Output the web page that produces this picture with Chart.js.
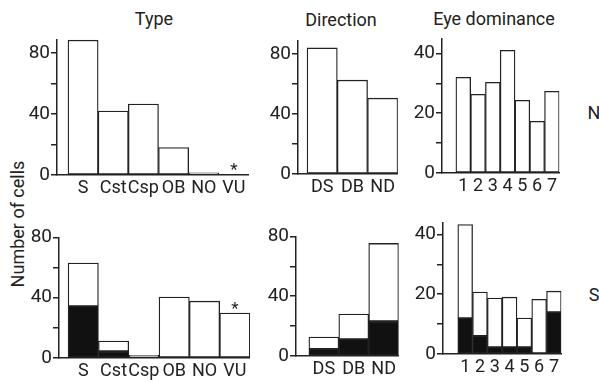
<!DOCTYPE html>
<html>
<head>
<meta charset="utf-8">
<script src="https://cdn.jsdelivr.net/npm/chart.js@4.4.1/dist/chart.umd.min.js"></script>
<style>
  html, body { margin:0; padding:0; background:#fff; }
  body { width:599px; height:382px; position:relative; overflow:hidden;
         font-family:Roboto,'Liberation Sans',sans-serif; color:#222; }
  .box { position:absolute; }
  .txt { position:absolute; font-size:18px; line-height:1; white-space:nowrap; transform:translate(-50%,-50%); }
</style>
</head>
<body>
<script>
// ---- data ----
const typeCats = ['S', 'Cst', 'Csp', 'OB', 'NO', 'VU'];
const dirCats  = ['DS', 'DB', 'ND'];
const eyeCats  = ['1', '2', '3', '4', '5', '6', '7'];

// row N (top)
const typeN = [88.5, 42, 46.5, 18, 1.5, 0];
const dirN  = [84, 62.5, 50.5];
const eyeN  = [32, 26.3, 30.3, 41, 24.3, 17.3, 27.3];

// row S (bottom): totals and filled (black) part
const typeSTotal = [63, 11.3, 1.8, 40.4, 37.7, 29.8];
const typeSBlack = [34.4, 4.5, 0.6, 0, 0, 0];
const dirSTotal  = [12.7, 28, 75.3];
const dirSBlack  = [4.7, 11.3, 23.3];
const eyeSTotal  = [43.3, 20.7, 18.7, 19, 12, 18.3, 21];
const eyeSBlack  = [12, 6, 2.3, 2.3, 2.3, 0, 14];

// y tick values
const ticks80 = [0, 20, 40, 60, 80];
const ticks40 = [0, 10, 20, 30, 40];
</script>

<div class="txt" style="left:154px;top:19px;">Type</div>
<div class="txt" style="left:341px;top:20px;">Direction</div>
<div class="txt" style="left:494px;top:19px;">Eye dominance</div>
<div class="txt" style="left:594px;top:113px;">N</div>
<div class="txt" style="left:594px;top:295px;">S</div>
<div class="txt" style="left:18px;top:224px;transform:translate(-50%,-50%) rotate(-90deg);">Number of cells</div>

<script>
const FONT = "Roboto,'Liberation Sans',sans-serif";
const INK = '#222';

const starPlugin = {
  id: 'star',
  afterDatasetsDraw(chart, args, opts) {
    if (!opts || !opts.show) return;
    const ctx = chart.ctx;
    const x = chart.scales.x.getPixelForValue(opts.index);
    const y = chart.scales.y.getPixelForValue(opts.value) - opts.gap;
    ctx.save();
    ctx.fillStyle = INK;
    ctx.font = '17px ' + FONT;
    ctx.textAlign = 'center';
    ctx.textBaseline = 'alphabetic';
    ctx.fillText('*', x, y + 9);
    ctx.restore();
  }
};

function panel(o) {
  const div = document.createElement('div');
  div.className = 'box';
  div.style.left = o.left + 'px';
  div.style.top = o.top + 'px';
  div.style.width = o.width + 'px';
  div.style.height = o.height + 'px';
  const cv = document.createElement('canvas');
  cv.width = o.width; cv.height = o.height;
  cv.style.width = o.width + 'px'; cv.style.height = o.height + 'px';
  div.appendChild(cv);
  document.body.appendChild(div);

  const cats = o.cats;
  const datasets = o.series.map(s => ({
    data: s.values.map((v, i) => ({ x: i, y: v })),
    backgroundColor: s.fill,
    borderColor: INK,
    borderWidth: 1.3,
    borderSkipped: false,
    categoryPercentage: 1,
    barPercentage: 1
  }));

  new Chart(cv, {
    type: 'bar',
    data: { datasets },
    options: {
      responsive: false,
      animation: false,
      devicePixelRatio: 1,
      layout: { padding: { top: 12, left: 0, right: 0, bottom: 0 } },
      plugins: { legend: { display: false }, tooltip: { enabled: false },
                 star: o.star || { show: false } },
      scales: {
        x: {
          type: 'linear',
          stacked: true,
          offset: false,
          min: o.xMin, max: cats.length - 0.5,
          grid: { display: false, drawTicks: false, offset: false },
          border: { display: true, color: INK, width: 1.5 },
          afterBuildTicks(s) { s.ticks = cats.map((c, i) => ({ value: i })); },
          afterFit(s) { s.height = 30; },
          ticks: {
            autoSkip: false, maxRotation: 0, padding: 3,
            color: INK, font: { family: FONT, size: 18 },
            callback: (v) => cats[v]
          }
        },
        y: {
          type: 'linear',
          stacked: true,
          min: 0, max: o.yMax,
          grid: { drawOnChartArea: false, drawTicks: true, tickLength: 6, color: INK, lineWidth: 1.5 },
          border: { display: true, color: INK, width: 1.5 },
          afterBuildTicks(s) { s.ticks = o.yTicks.map(v => ({ value: v })); },
          afterFit(s) { s.width = 40; },
          ticks: {
            padding: 1, color: INK, font: { family: FONT, size: 19 },
            callback: (v) => (v % o.labelEvery === 0 ? String(v) : '')
          }
        }
      }
    },
    plugins: [starPlugin]
  });
}

const W = '#ffffff', B = '#111111';

// top row (N)
panel({ left: 17, top: 27, width: 232, height: 178, cats: typeCats, xMin: -0.864, yMax: 89,
        yTicks: ticks80, labelEvery: 40, series: [{ values: typeN, fill: W }],
        star: { show: true, index: 5, value: 0, gap: 9 } });
panel({ left: 258, top: 28, width: 140, height: 176, cats: dirCats, xMin: -0.8, yMax: 89,
        yTicks: ticks80, labelEvery: 40, series: [{ values: dirN, fill: W }] });
panel({ left: 402, top: 26, width: 158, height: 177, cats: eyeCats, xMin: -1.44, yMax: 45,
        yTicks: ticks40, labelEvery: 20, series: [{ values: eyeN, fill: W }] });

// bottom row (S)
panel({ left: 19, top: 225, width: 231, height: 163, cats: typeCats, xMin: -0.8, yMax: 80,
        yTicks: ticks80, labelEvery: 40,
        series: [{ values: typeSBlack, fill: B },
                 { values: typeSTotal.map((t, i) => t - typeSBlack[i]), fill: W }],
        star: { show: true, index: 5, value: typeSTotal[5], gap: 8 } });
panel({ left: 256, top: 224, width: 143, height: 162, cats: dirCats, xMin: -0.93, yMax: 80,
        yTicks: ticks80, labelEvery: 40,
        series: [{ values: dirSBlack, fill: B },
                 { values: dirSTotal.map((t, i) => t - dirSBlack[i]), fill: W }] });
panel({ left: 403, top: 210, width: 159, height: 174, cats: eyeCats, xMin: -1.5, yMax: 44,
        yTicks: ticks40, labelEvery: 20,
        series: [{ values: eyeSBlack, fill: B },
                 { values: eyeSTotal.map((t, i) => t - eyeSBlack[i]), fill: W }] });
</script>
</body>
</html>
